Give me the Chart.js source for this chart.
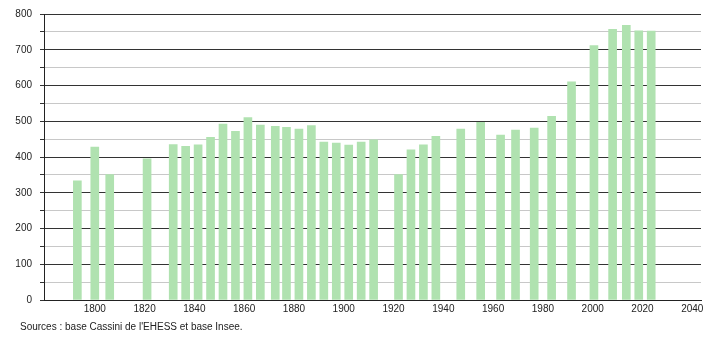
<!DOCTYPE html>
<html>
<head>
<meta charset="utf-8">
<script src="https://cdn.jsdelivr.net/npm/chart.js@4/dist/chart.umd.min.js"></script>
<style>
  html, body { margin: 0; padding: 0; background: #ffffff; }
  #wrap { width: 710px; height: 340px; position: relative; }
</style>
</head>
<body>
<div id="wrap"><canvas id="c" width="710" height="340"></canvas></div>
<script>
// Bar positions (years, as placed on the axis) and population values
const years = [1793, 1800, 1806, 1821, 1831.5, 1836.5, 1841.5, 1846.5, 1851.5, 1856.5,
  1861.5, 1866.5, 1872.5, 1877, 1882, 1887, 1892, 1897, 1902, 1907, 1912,
  1922, 1927, 1932, 1937, 1947, 1955, 1963, 1969, 1976.5, 1983.5, 1991.5,
  2000.5, 2008, 2013.5, 2018.5, 2023.5];
const population = [333, 428, 351, 395, 435, 430, 434, 455, 492, 472,
  510, 489, 486, 483, 478, 488, 442, 439, 433, 442, 448,
  351, 420, 434, 458, 478, 497, 461, 475, 481, 514, 610,
  712, 757, 768, 753, 752];
const xTickYears = [1800, 1820, 1840, 1860, 1880, 1900, 1920, 1940, 1960, 1980, 2000, 2020, 2040];
const yTickValues = [0, 100, 200, 300, 400, 500, 600, 700, 800];
const sourceText = "Sources : base Cassini de l'EHESS et base Insee.";

const FONT = "'Liberation Sans', Arial, sans-serif";

const sourcePlugin = {
  id: 'sourceText',
  afterDraw(chart) {
    const ctx = chart.ctx;
    ctx.save();
    ctx.font = '10px ' + FONT;
    ctx.fillStyle = '#222';
    ctx.textAlign = 'left';
    ctx.textBaseline = 'middle';
    ctx.fillText(sourceText, 20, 327.5);
    ctx.restore();
  }
};

new Chart(document.getElementById('c'), {
  type: 'bar',
  data: {
    datasets: [{
      data: years.map((y, i) => ({ x: y, y: population[i] })),
      backgroundColor: 'rgb(176,226,176)',
      borderWidth: 0,
      barThickness: 8
    }]
  },
  plugins: [sourcePlugin],
  options: {
    responsive: false,
    animation: false,
    devicePixelRatio: 1,
    layout: { padding: { left: 0, right: 9, top: 11, bottom: 20 } },
    plugins: {
      legend: { display: false },
      tooltip: { enabled: false },
      title: { display: false }
    },
    scales: {
      x: {
        type: 'linear',
        min: 1779.6,
        max: 2043.5,
        offset: false,
        grid: { display: false, drawTicks: false },
        border: { display: true, color: '#222', width: 1 },
        afterBuildTicks: s => { s.ticks = xTickYears.map(v => ({ value: v })); },
        afterFit: s => { s.height = 20; },
        ticks: {
          color: '#222',
          font: { family: FONT, size: 10 },
          padding: 3,
          maxRotation: 0,
          autoSkip: false,
          callback: v => String(v)
        }
      },
      y: {
        min: 0,
        max: 800,
        afterBuildTicks: s => {
          const t = [];
          for (let v = 0; v <= 800; v += 50) t.push({ value: v });
          s.ticks = t;
        },
        afterFit: s => { s.width = 44; },
        grid: {
          color: ctx => (ctx.tick && ctx.tick.value % 100 === 0) ? '#333333' : '#c8c8c8',
          tickColor: '#333333',
          tickLength: 4,
          drawTicks: true
        },
        border: { display: true, color: '#222', width: 1 },
        ticks: {
          color: '#222',
          font: { family: FONT, size: 10 },
          padding: 8,
          autoSkip: false,
          callback: v => yTickValues.includes(v) ? String(v) : ''
        }
      }
    }
  }
});
</script>
</body>
</html>
